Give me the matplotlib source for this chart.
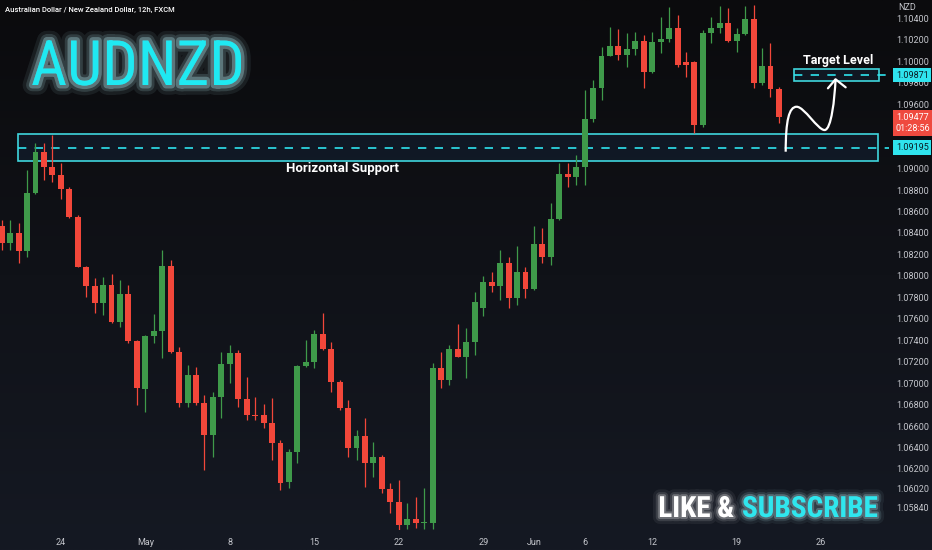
import numpy as np
import pandas as pd
import matplotlib
matplotlib.use('Agg')
import matplotlib.pyplot as plt
import matplotlib.font_manager as fm
from matplotlib import patheffects as pe
from matplotlib import transforms
from matplotlib.patches import Rectangle, PathPatch
from matplotlib.path import Path

### AUDNZD 12h candles (FXCM)

opens = [1.08465, 1.08309, 1.08402, 1.08235, 1.08775, 1.09152, 1.09017, 1.08937, 1.08810, 1.08546,
         1.08085, 1.07908, 1.07750, 1.07915, 1.07567, 1.07828, 1.07393, 1.06946, 1.07440, 1.07486,
         1.08092, 1.07293, 1.06812, 1.07076, 1.06812, 1.06517, 1.06868, 1.07176, 1.07284, 1.06855,
         1.06706, 1.06700, 1.06631, 1.06445, 1.06080, 1.06361, 1.07163, 1.07194, 1.07455, 1.07316,
         1.07014, 1.06766, 1.06393, 1.06510, 1.06253, 1.06315, 1.06014, 1.05895, 1.05678, 1.05734,
         1.05698, 1.05700, 1.07138, 1.07029, 1.07316, 1.07247, 1.07386, 1.07700, 1.07946, 1.07908,
         1.08123, 1.07791, 1.08039, 1.07878, 1.08294, 1.08179, 1.08527, 1.08949, 1.08918, 1.09015,
         1.09459, 1.09748, 1.10052, 1.10142, 1.10058, 1.10111, 1.10189, 1.09897, 1.10177, 1.10208,
         1.10307, 1.09996, 1.09996, 1.09403, 1.10261, 1.10307, 1.10354, 1.10192, 1.10254, 1.10391,
         1.09795, 1.09959, 1.09739]
highs = [1.08521, 1.08521, 1.08493, 1.08987, 1.09241, 1.09241, 1.09313, 1.09049, 1.08831, 1.08567,
         1.08090, 1.07977, 1.07992, 1.08017, 1.07961, 1.07915, 1.07400, 1.07445, 1.07645, 1.08241,
         1.08148, 1.07340, 1.07169, 1.07153, 1.06890, 1.06920, 1.07293, 1.07356, 1.07309, 1.07060,
         1.06874, 1.06806, 1.06862, 1.06470, 1.06387, 1.07170, 1.07402, 1.07495, 1.07651, 1.07386,
         1.07030, 1.06843, 1.06563, 1.06672, 1.06454, 1.06330, 1.06067, 1.06097, 1.05880, 1.05942,
         1.06020, 1.07185, 1.07293, 1.07356, 1.07551, 1.07511, 1.07852, 1.07999, 1.08039, 1.08241,
         1.08179, 1.08278, 1.08085, 1.08465, 1.08443, 1.08676, 1.09055, 1.09055, 1.09126, 1.09732,
         1.09825, 1.10136, 1.10322, 1.10298, 1.10261, 1.10276, 1.10245, 1.10276, 1.10415, 1.10509,
         1.10431, 1.10089, 1.10000, 1.10291, 1.10415, 1.10515, 1.10494, 1.10307, 1.10515, 1.10524,
         1.10121, 1.10167, 1.09763]
lows = [1.08241, 1.08241, 1.08120, 1.08179, 1.08760, 1.08893, 1.08878, 1.08714, 1.08537, 1.08080,
        1.07806, 1.07651, 1.07635, 1.07558, 1.07526, 1.07371, 1.06796, 1.06734, 1.07371, 1.07234,
        1.07285, 1.06781, 1.06781, 1.06796, 1.06191, 1.06315, 1.06675, 1.06999, 1.06781, 1.06657,
        1.06657, 1.06579, 1.06284, 1.06004, 1.06023, 1.06256, 1.07150, 1.07141, 1.07309, 1.06920,
        1.06750, 1.06315, 1.06284, 1.06035, 1.06128, 1.05973, 1.05787, 1.05635, 1.05640, 1.05645,
        1.05640, 1.05640, 1.06952, 1.06983, 1.07240, 1.07048, 1.07262, 1.07626, 1.07852, 1.07775,
        1.07698, 1.07728, 1.07791, 1.07870, 1.08117, 1.08101, 1.08520, 1.08831, 1.08847, 1.08847,
        1.09437, 1.09639, 1.10045, 1.10012, 1.09949, 1.10058, 1.09748, 1.09890, 1.10074, 1.10182,
        1.09949, 1.09856, 1.09329, 1.09390, 1.10167, 1.10261, 1.10182, 1.10089, 1.10245, 1.09748,
        1.09779, 1.09670, 1.09422]
closes = [1.08309, 1.08402, 1.08235, 1.08775, 1.09152, 1.09017, 1.08937, 1.08810, 1.08546, 1.08085,
          1.07908, 1.07750, 1.07915, 1.07567, 1.07828, 1.07393, 1.06952, 1.07440, 1.07486, 1.08092,
          1.07293, 1.06812, 1.07076, 1.06812, 1.06517, 1.06868, 1.07176, 1.07284, 1.06855, 1.06700,
          1.06697, 1.06631, 1.06445, 1.06069, 1.06361, 1.07163, 1.07194, 1.07455, 1.07316, 1.07014,
          1.06766, 1.06393, 1.06510, 1.06253, 1.06315, 1.06014, 1.05895, 1.05678, 1.05734, 1.05694,
          1.05700, 1.07138, 1.07029, 1.07316, 1.07247, 1.07386, 1.07759, 1.07946, 1.07908, 1.08123,
          1.07791, 1.08039, 1.07878, 1.08294, 1.08179, 1.08527, 1.08949, 1.08918, 1.09015, 1.09459,
          1.09748, 1.10052, 1.10142, 1.10058, 1.10111, 1.10189, 1.09897, 1.10177, 1.10208, 1.10307,
          1.09965, 1.09965, 1.09403, 1.10261, 1.10307, 1.10354, 1.10192, 1.10254, 1.10391, 1.09795,
          1.09959, 1.09739, 1.09477]

tick_dates = ['2023-04-24', '2023-05-01', '2023-05-08', '2023-05-15', '2023-05-22', '2023-05-29',
              '2023-06-01', '2023-06-06', '2023-06-12', '2023-06-19', '2023-06-26']
tick_names = ['24', 'May', '8', '15', '22', '29', 'Jun', '6', '12', '19', '26']
price_ticks = [1.104, 1.102, 1.100, 1.098, 1.096, 1.090, 1.088, 1.086, 1.084, 1.082, 1.080, 1.078,
               1.076, 1.074, 1.072, 1.070, 1.068, 1.066, 1.064, 1.062, 1.0602, 1.0584]

support_level = 1.09195
target_level = 1.09871
last_price = closes[-1]
countdown = '01:28:56'

# 12h bars on business days, first bar is Apr 18 12:00
days = pd.bdate_range('2023-04-18', '2023-06-30')
stamps = []
for d in days:
    stamps.append(d)
    stamps.append(d + pd.Timedelta(hours=12))
stamps = stamps[1:]
tick_pos = [stamps.index(pd.Timestamp(t)) for t in tick_dates]

names = {f.name for f in fm.fontManager.ttflist}
narrow = None
for cand in ['Liberation Sans Narrow', 'Roboto Condensed', 'Noto Sans Condensed',
             'Open Sans Condensed', 'DejaVu Sans Condensed', 'Noto Sans Display Condensed']:
    if cand in names:
        narrow = cand
        break
ui_font = 'Roboto' if 'Roboto' in names else 'DejaVu Sans'
plt.rcParams['font.family'] = [ui_font, 'DejaVu Sans']

if narrow is not None:
    head_kw = dict(family=[narrow, 'DejaVu Sans'])
    head_size, like_size = 45, 21
else:
    # no narrow family: condensed DejaVu if present, smaller size to keep the width
    head_kw = dict(family=['DejaVu Sans'], fontstretch='condensed')
    head_size, like_size = 38, 17

green = '#3f9a4a'
red = '#f2473a'
cyan = '#2fe4ee'
box_edge = '#3fd6dd'
axis_txt = '#c4c6cc'

W, H = 932, 550
fig = plt.figure(figsize=(W / 100, H / 100), dpi=100)

# dark vertical gradient behind everything
bg = fig.add_axes([0, 0, 1, 1], zorder=-10)
top = np.array([11, 11, 13]) / 255
bot = np.array([21, 25, 35]) / 255
t = np.linspace(0, 1, 256)[:, None]
grad = top[None, :] * (1 - t) + bot[None, :] * t
bg.imshow(grad[:, None, :].repeat(4, axis=1), aspect='auto', extent=[0, 1, 0, 1])
bg.axis('off')

ax = fig.add_axes([0, 20 / H, 882 / W, 530 / H])
ax.patch.set_alpha(0)
for s in ax.spines.values():
    s.set_visible(False)

x = np.arange(len(opens))
o = np.array(opens)
c = np.array(closes)
cols = [green if cc >= oo else red for oo, cc in zip(o, c)]
body_lo = np.minimum(o, c)
body_h = np.maximum(np.abs(c - o), 0.00008)

ax.vlines(x, lows, highs, colors=cols, lw=0.9, zorder=3)
ax.bar(x, body_h, bottom=body_lo, width=0.7, color=cols, linewidth=0, zorder=4)

ax.set_xlim(-0.2, 104.2)
ax.set_ylim(1.05631, 1.10571)

ax.yaxis.tick_right()
ax.set_yticks(price_ticks)
ax.set_yticklabels(['%.5f' % p for p in price_ticks])
ax.set_xticks(tick_pos)
ax.set_xticklabels(tick_names)
ax.tick_params(axis='y', length=0, pad=10, labelsize=6.5, labelcolor=axis_txt)
ax.tick_params(axis='x', length=0, pad=6, labelsize=6.5, labelcolor=axis_txt)

# support zone and target zone
ax.add_patch(Rectangle((1.95, 1.09073), 103.7 - 1.95, 1.09322 - 1.09073,
                       fc=(0.12, 0.25, 0.4, 0.22), ec=box_edge, lw=1.2, zorder=2))
ax.add_patch(Rectangle((93.8, 1.09816), 103.8 - 93.8, 1.09925 - 1.09816,
                       fc=(0.12, 0.25, 0.4, 0.22), ec=box_edge, lw=1.2, zorder=2))
ax.plot([1.95, 105.0], [support_level] * 2, color=cyan, lw=1.2, ls=(0, (5, 5)),
        zorder=2, clip_on=False)
ax.plot([93.8, 105.0], [target_level] * 2, color=cyan, lw=1.2, ls=(0, (5, 5)),
        zorder=2, clip_on=False)

ax.text(40.4, 1.09005, 'Horizontal Support', color='white', fontsize=9.5,
        fontweight='bold', ha='center', va='center', zorder=6)
ax.text(99.0, 1.10003, 'Target Level', color='white', fontsize=9,
        fontweight='bold', ha='center', va='center', zorder=6)

# white projected path with arrow head
verts = [(92.8, 1.09157), (92.8, 1.09450), (93.2, 1.09576), (94.1, 1.09576),
         (95.0, 1.09576), (96.6, 1.09359), (97.4, 1.09359),
         (98.2, 1.09359), (98.6, 1.09650), (98.7, 1.09832)]
codes = [Path.MOVETO] + [Path.CURVE4] * 9
ax.add_patch(PathPatch(Path(verts, codes), fc='none', ec='white', lw=1.6, zorder=6))
ax.plot([97.8, 98.7, 99.9], [1.09748, 1.09832, 1.09757], color='white', lw=1.6,
        solid_capstyle='round', zorder=6)

# price axis labels
tr = transforms.blended_transform_factory(ax.transAxes, ax.transData)
lx = 1 + 14 / 882
for lvl in [target_level, support_level]:
    ax.text(lx, lvl, '%.5f' % lvl, transform=tr, ha='left', va='center', fontsize=6.5,
            color='#0a1a22', clip_on=False, zorder=8,
            bbox=dict(boxstyle='square,pad=0.3', fc=cyan, ec='none'))
ax.text(lx, last_price - 0.00052, '%.5f\n%s' % (last_price, countdown), transform=tr,
        ha='left', va='center', fontsize=6.5, color='white', linespacing=1.25,
        clip_on=False, zorder=8,
        bbox=dict(boxstyle='square,pad=0.3', fc='#ef4a3f', ec='none'))

fig.text(898 / W, 1 - 7 / H, 'NZD', fontsize=6.5, color=axis_txt, va='center', ha='left')
fig.text(5 / W, 1 - 10 / H, 'Australian Dollar / New Zealand Dollar, 12h, FXCM',
         fontsize=5.5, color='white', fontweight='medium', va='center', ha='left')

# glowing headline texts
def glow(col, widths=(14, 9, 5), alphas=(0.08, 0.15, 0.3)):
    fx = [pe.Stroke(linewidth=w, foreground=col, alpha=a) for w, a in zip(widths, alphas)]
    return fx + [pe.Normal()]

fig.text(31 / W, 1 - 85 / H, 'AUDNZD', fontsize=head_size, color='#1fe9f2',
         ha='left', va='baseline', path_effects=glow('#bff8ff'), **head_kw)
fig.text(734 / W, 1 - 517 / H, 'LIKE &', fontsize=like_size, color='white', fontweight='bold',
         ha='right', va='baseline',
         path_effects=glow('#ffffff', (10, 6, 3), (0.06, 0.12, 0.25)), **head_kw)
fig.text(742 / W, 1 - 517 / H, 'SUBSCRIBE', fontsize=like_size, color='#2fe6ee', fontweight='bold',
         ha='left', va='baseline',
         path_effects=glow('#bff8ff', (10, 6, 3), (0.06, 0.12, 0.25)), **head_kw)

fig.savefig('out.png', dpi=100)
